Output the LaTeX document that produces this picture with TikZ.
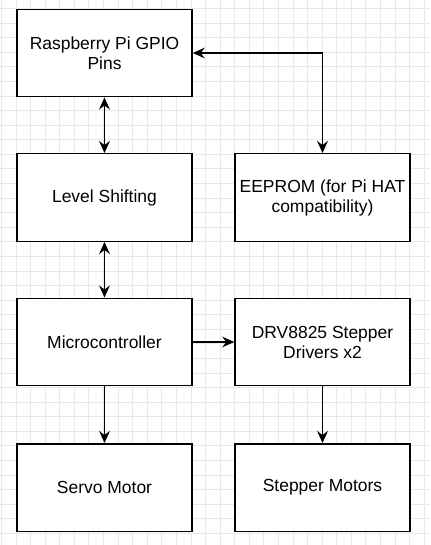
\documentclass[tikz,border=0pt]{standalone}
\usepackage{fontspec}
\setmainfont{Liberation Sans}
\usetikzlibrary{arrows.meta}
\begin{document}
\begin{tikzpicture}[x=0.75pt,y=-0.75pt,
  blk/.style={draw=black,line width=1.1pt,fill=white,minimum width=131.25pt,minimum height=65.6pt,inner sep=0pt,align=center,font=\fontsize{13.1}{15}\selectfont},
  conn/.style={line width=1.1pt,-{Stealth[length=9pt,width=8pt,inset=3pt]}},
  bconn/.style={line width=1.1pt,{Stealth[length=9pt,width=8pt,inset=3pt]}-{Stealth[length=9pt,width=8pt,inset=3pt]}}]
\useasboundingbox (0,0) rectangle (430,545);
\fill[white] (0,0) rectangle (430,545);
\foreach \k in {0,...,29} {
  \pgfmathsetmacro\gx{1.3+14.58*\k}
  \draw[line width=0.5pt,color=black!9] (\gx,0) -- (\gx,545);
}
\foreach \k in {0,...,37} {
  \pgfmathsetmacro\gy{8.4+14.58*\k}
  \draw[line width=0.5pt,color=black!9] (0,\gy) -- (430,\gy);
}
\node[blk] (gpio) at (104.5,53) {Raspberry Pi GPIO\\Pins};
\node[blk] (lvl) at (104.5,197.5) {Level Shifting};
\node[blk] (mcu) at (104.5,342) {Microcontroller};
\node[blk] (servo) at (104.5,487.5) {Servo Motor};
\node[blk] (eep) at (322.5,197.5) {EEPROM (for Pi HAT\\compatibility)};
\node[blk] (drv) at (322.5,342) {DRV8825 Stepper\\Drivers x2};
\node[blk] (step) at (322.5,487.5) {Stepper Motors};
\draw[bconn] (gpio.south) -- (lvl.north);
\draw[bconn] (lvl.south) -- (mcu.north);
\draw[conn] (mcu.south) -- (servo.north);
\draw[conn] (drv.south) -- (step.north);
\draw[conn] (mcu.east) -- (drv.west);
\draw[bconn] (gpio.east) -| (eep.north);
\end{tikzpicture}
\end{document}
